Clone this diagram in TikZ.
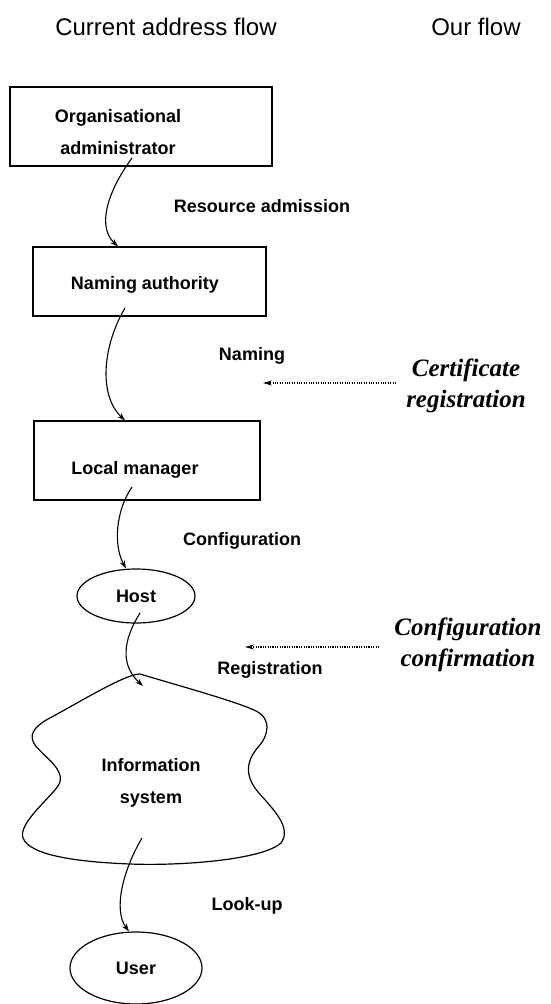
\documentclass[tikz,border=0pt]{standalone}
\usepackage{fontspec}
\setmainfont{Liberation Sans}
\newfontfamily\timesf{Liberation Serif}
\usetikzlibrary{shapes.geometric,arrows.meta}
\begin{document}
\begin{tikzpicture}[x=1pt,y=-1pt,
  lbl/.style={font=\fontsize{18}{32}\selectfont\bfseries, inner sep=0pt, align=center},
  ttl/.style={font=\fontsize{24}{26}\selectfont, inner sep=0pt},
  our/.style={font=\fontsize{25}{31}\selectfont\timesf\bfseries\itshape, align=center, inner sep=0pt},
  boxn/.style={draw, line width=1.2pt, inner sep=0pt},
  ell/.style={draw, ellipse, line width=1.2pt, inner sep=0pt, font=\fontsize{18}{20}\selectfont\bfseries},
  flow/.style={line width=1.1pt, -{Stealth[length=8pt,width=5.5pt]}},
  dotarr/.style={line width=1.1pt, dash pattern=on 1.1pt off 1.3pt, -{Stealth[length=9pt,width=5pt]}},
]
\useasboundingbox (0,0) rectangle (551,1004);

% titles
\node[ttl] (t1) at (166,27) {Current address flow};
\node[ttl] (t2) at (476,27) {Our flow};

% boxes
\node[boxn, minimum width=262pt, minimum height=79pt] (box1) at (141,126.5) {};
\node[lbl] (box1t) at (118,132) {Organisational\\administrator};
\node[boxn, minimum width=233pt, minimum height=69pt] (box2) at (149.5,281.5) {};
\node[lbl] (box2t) at (145,285) {Naming authority};
\node[boxn, minimum width=226pt, minimum height=79pt] (box3) at (147,460.5) {};
\node[lbl] (box3t) at (135,470) {Local manager};

% ellipses
\node[ell, minimum width=118pt, minimum height=54pt] (host) at (136,596) {Host};
\node[ell, minimum width=132pt, minimum height=72pt] (user) at (136,968) {User};

% cloud
\draw[line width=1.2pt, line join=round] (140,674)
  .. controls (180,686) and (238,702) .. (256,711)
  .. controls (272,719) and (268,735) .. (260,745)
  .. controls (246,760) and (244,775) .. (258,792)
  .. controls (274,810) and (292,828) .. (281,843)
  .. controls (262,860) and (180,866) .. (130,864)
  .. controls (80,862) and (30,856) .. (23,838)
  .. controls (18,824) and (48,800) .. (58,786)
  .. controls (68,771) and (44,757) .. (35,745)
  .. controls (28,735) and (34,727) .. (48,719)
  .. controls (80,702) and (125,674) .. cycle;
\node[lbl] (info) at (151,783) {Information\\system};
\coordinate (cloudtop) at (143,686);

% edge labels
\node[lbl] (l1) at (262,206) {Resource admission};
\node[lbl] (l2) at (252,356) {Naming};
\node[lbl] (l3) at (242,541) {Configuration};
\node[lbl] (l4) at (270,670) {Registration};
\node[lbl] (l5) at (247,906) {Look-up};

% our flow labels
\node[our] (o1) at (466,386) {Certificate\\registration};
\node[our] (o2) at (468,645) {Configuration\\confirmation};
\coordinate (d1) at (263,383);
\coordinate (d2) at (245,647);
\draw[dotarr] (o1.west |- d1) ++(-10pt,0) -- (d1);
\draw[dotarr] (o2.west |- d2) ++(-15pt,0) -- (d2);

% connectors
\coordinate (s1) at (132,158);
\coordinate (s2) at (125,308);
\coordinate (s3) at (132,487);
\coordinate (s4) at (140,613);
\coordinate (s5) at (142,838);
\draw[flow] (s1) .. controls (105,195) and (98,228) .. ([xshift=-31.5pt]box2.north);
\draw[flow] (s2) .. controls (103,345) and (98,395) .. ([xshift=-22pt]box3.north);
\draw[flow] (s3) .. controls (116,510) and (113,545) .. ([xshift=-10pt]host.north);
\draw[flow] (s4) .. controls (123,640) and (120,665) .. (cloudtop);
\draw[flow] (s5) .. controls (123,870) and (113,910) .. ([xshift=-7pt]user.north);
\end{tikzpicture}
\end{document}
